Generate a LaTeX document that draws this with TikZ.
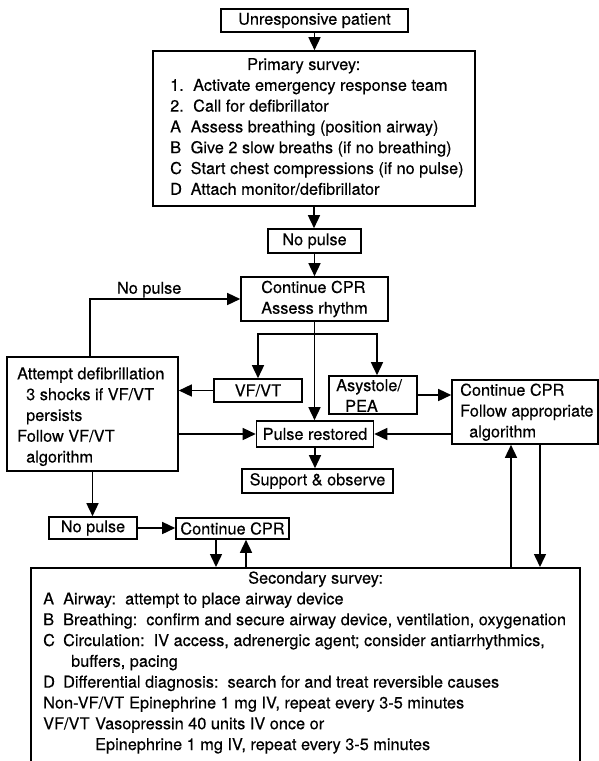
\documentclass[tikz,border=0pt]{standalone}
\usepackage{fontspec}
\setmainfont{TeX Gyre Heros}[FakeBold=0.35]
\usetikzlibrary{arrows.meta}
\begin{document}
\begin{tikzpicture}[x=1pt,y=-1pt,
  every node/.style={font=\fontsize{16.3pt}{20.8pt}\selectfont, inner sep=0pt},
  box/.style={draw, line width=1.6pt, inner sep=0pt},
  txt/.style={align=left, inner sep=0pt},
  arr/.style={line width=1.5pt, -{Triangle[length=13pt,width=12pt]}},
  ln/.style={line width=1.5pt}]
\useasboundingbox (0,0) rectangle (599,761);
\clip (0,0) rectangle (599,761);

% boxes
\node[box, minimum width=187pt, minimum height=23pt] (unresp) at (314.5,20.5) {Unresponsive patient};
\node[box, minimum width=322pt, minimum height=155pt] (prim) at (314,128.5) {};
\node[txt, anchor=west] (primtxt) at (170,126.6) {\hspace*{77pt}Primary survey:\\
\makebox[23pt][l]{1.}Activate emergency response team\\
\makebox[23pt][l]{2.}Call for defibrillator\\
\makebox[20.5pt][l]{A}Assess breathing (position airway)\\
\makebox[20.5pt][l]{B}Give 2 slow breaths (if no breathing)\\
\makebox[20.5pt][l]{C}Start chest compressions (if no pulse)\\
\makebox[20.5pt][l]{D}Attach monitor/defibrillator};
\node[box, minimum width=93pt, minimum height=24pt] (np1) at (314.5,241) {No pulse};
\node[box, minimum width=147pt, minimum height=44pt, align=left] (cpr) at (314.5,299) {Continue CPR\\Assess rhythm};
\node[box, minimum width=171pt, minimum height=114pt] (att) at (92.5,414) {};
\node[txt, anchor=west] (atttxt) at (17,416.7) {Attempt defibrillation\\
\hspace*{9pt}3 shocks if VF/VT\\
\hspace*{9pt}persists\\
Follow VF/VT\\
\hspace*{9pt}algorithm};
\node[box, minimum width=88pt, minimum height=23pt] (vf) at (258,390.5) {VF/VT};
\node[box, minimum width=88pt, minimum height=38pt] (asy) at (373,395) {};
\node[txt, anchor=west] (asytxt) at (336,395.5) {Asystole/\\\hspace*{9pt}PEA};
\node[box, minimum width=146pt, minimum height=64pt] (fol) at (525,412) {};
\node[txt, anchor=west] (foltxt) at (460,412.2) {Continue CPR\\Follow appropriate\\\hspace*{9pt}algorithm};
\node[box, minimum width=117pt, minimum height=26pt] (pulse) at (315,434) {Pulse restored};
\node[box, minimum width=151pt, minimum height=24pt] (sup) at (317.5,481) {Support \& observe};
\node[box, minimum width=88pt, minimum height=22pt] (np2) at (93,528) {No pulse};
\node[box, minimum width=113pt, minimum height=21pt] (cpr2) at (232.5,528.5) {Continue CPR};
\node[box, minimum width=549pt, minimum height=210pt, anchor=north west] (sec) at (30,567) {};
\node[txt, anchor=west] (sectxt) at (43,662.5) {\hspace*{205pt}Secondary survey:\\
\makebox[20pt][l]{A}Airway:\ \ attempt to place airway device\\
\makebox[20pt][l]{B}Breathing:\ \ confirm and secure airway device, ventilation, oxygenation\\
\makebox[20pt][l]{C}Circulation:\ \ IV access, adrenergic agent; consider antiarrhythmics,\\
\hspace*{28pt}buffers, pacing\\
\makebox[20pt][l]{D}Differential diagnosis:\ \ search for and treat reversible causes\\
\makebox[86pt][l]{Non-VF/VT}Epinephrine 1 mg IV, repeat every 3-5 minutes\\
\makebox[52pt][l]{VF/VT}Vasopressin 40 units IV once or\\
\hspace*{52pt}Epinephrine 1 mg IV, repeat every 3-5 minutes};

% connectors
\draw[arr] (unresp.south) -- (unresp.south |- prim.north);
\draw[arr] (prim.south) -- (prim.south |- np1.north);
\draw[arr] (np1.south) -- (np1.south |- cpr.north);
\draw[arr] (cpr.south) -- (cpr.south |- pulse.north);
\coordinate (split) at (314.5,334);
\draw[arr] (split) -| (vf.north);
\draw[arr] (split) -| ([xshift=4pt]asy.north);
\draw[arr] ([xshift=-2.5pt]att.north) |- node[pos=0.697, above=1pt] (nplab) {No pulse} (cpr.west);
\draw[arr] (vf.west) -- (vf.west -| att.east);
\draw[arr] (pulse.west -| att.east) -- (pulse.west);
\draw[arr] (asy.east) -- (asy.east -| fol.west);
\draw[arr] (pulse.east -| fol.west) -- (pulse.east);
\draw[arr] (pulse.south) -- (pulse.south |- sup.north);
\draw[arr] (att.south) -- (att.south |- np2.north);
\draw[arr] (np2.east) -- (np2.east -| cpr2.west);
\draw[arr] ([xshift=-16.5pt]cpr2.south) -- ([xshift=-16.5pt]cpr2.south |- sec.north);
\draw[arr] ([xshift=13.5pt]cpr2.south |- sec.north) -- ([xshift=13.5pt]cpr2.south);
\draw[arr] ([xshift=-14pt]fol.south |- sec.north) -- ([xshift=-14pt]fol.south);
\draw[arr] ([xshift=15pt]fol.south) -- ([xshift=15pt]fol.south |- sec.north);
\end{tikzpicture}
\end{document}
